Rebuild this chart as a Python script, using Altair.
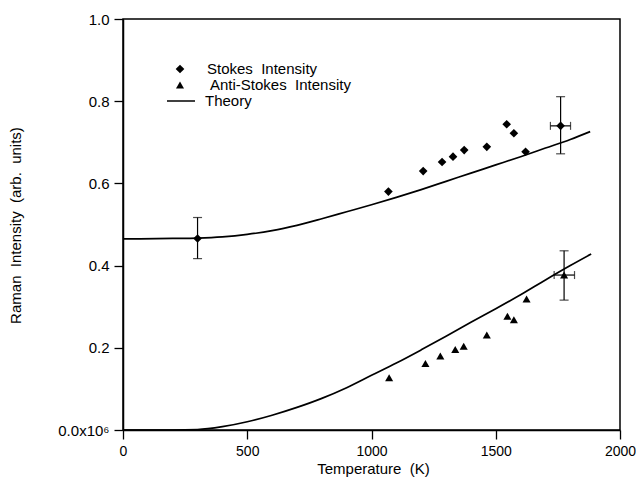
import altair as alt
import pandas as pd

# ---- data ----
stokes_T = [300, 1068, 1208, 1284, 1328, 1373, 1464, 1544, 1573, 1620, 1761]
stokes_I = [0.466, 0.580, 0.630, 0.652, 0.665, 0.681, 0.689, 0.744, 0.722, 0.677, 0.740]

anti_T = [1071, 1217, 1277, 1337, 1371, 1464, 1547, 1573, 1624, 1775]
anti_I = [0.127, 0.162, 0.180, 0.196, 0.204, 0.231, 0.277, 0.268, 0.319, 0.377]

theory_up_T = [0, 200, 300, 400, 500, 600, 700, 800, 900, 1000, 1100, 1200, 1300, 1400, 1500, 1600, 1700, 1800, 1880]
theory_up_I = [0.465, 0.466, 0.467, 0.470, 0.476, 0.485, 0.498, 0.514, 0.531, 0.548, 0.566, 0.585, 0.605, 0.625, 0.645, 0.665, 0.686, 0.707, 0.726]

theory_lo_T = [0, 200, 300, 400, 500, 600, 700, 800, 900, 1000, 1100, 1200, 1300, 1400, 1500, 1600, 1700, 1800, 1884]
theory_lo_I = [0.0, 0.0, 0.001, 0.008, 0.020, 0.036, 0.055, 0.077, 0.103, 0.133, 0.163, 0.195, 0.228, 0.262, 0.295, 0.329, 0.365, 0.400, 0.428]

# vertical error bars
verr_T = [300, 1761, 1775]
verr_lo = [0.417, 0.672, 0.316]
verr_hi = [0.517, 0.811, 0.436]
# horizontal error bars
herr_I = [0.740, 0.377]
herr_lo = [1720, 1735]
herr_hi = [1801, 1817]

SP = "\u00a0 "
legend_labels = ["Stokes" + SP + "Intensity", "Anti-Stokes" + SP + "Intensity", "Theory"]
x_title = "Temperature" + SP + "(K)"
y_title = "Raman" + SP + "Intensity" + SP + "(arb." + SP + "units)"
y_ticks = [0.0, 0.2, 0.4, 0.6, 0.8, 1.0]
x_ticks = [0, 500, 1000, 1500, 2000]

FONT = "Liberation Sans"
FS = 15

stokes_df = pd.DataFrame({"T": stokes_T, "I": stokes_I})
anti_df = pd.DataFrame({"T": anti_T, "I": anti_I})
theory_df = pd.concat([
    pd.DataFrame({"T": theory_up_T, "I": theory_up_I, "s": "up"}),
    pd.DataFrame({"T": theory_lo_T, "I": theory_lo_I, "s": "lo"}),
])
verr_df = pd.DataFrame({"T": verr_T, "lo": verr_lo, "hi": verr_hi})
herr_df = pd.DataFrame({"I": herr_I, "lo": herr_lo, "hi": herr_hi})

xscale = alt.Scale(domain=[0, 2000], nice=False, zero=False)
yscale = alt.Scale(domain=[0, 1], nice=False)

xaxis = alt.Axis(values=x_ticks, format="d", title=x_title, labelFlush=False,
                 labelOverlap=False, labelPadding=5, labelFontSize=14, titleX=250, titleY=38,
                 titleBaseline="middle")
yaxis = alt.Axis(values=y_ticks, title=y_title,
                 labelExpr="datum.value == 0 ? '0.0x10\u2076' : format(datum.value, '.1f')",
                 labelOverlap=False, labelPadding=5, labelFlush=False,
                 titleX=-108, titleY=206, titleAngle=270, titleAlign="center",
                 titleBaseline="middle")


def X(field, **kw):
    return alt.X(field, type="quantitative", scale=xscale, axis=xaxis, **kw)


def Y(field, **kw):
    return alt.Y(field, type="quantitative", scale=yscale, axis=yaxis, **kw)


theory = alt.Chart(theory_df).mark_line(color="black", strokeWidth=1.7, interpolate="monotone").encode(
    x=X("T"), y=Y("I"), detail="s:N")

vbar = alt.Chart(verr_df).mark_rule(color="black", strokeWidth=1.2).encode(
    x=X("T"), y=Y("lo"), y2="hi")
vcap_lo = alt.Chart(verr_df).mark_tick(orient="horizontal", size=9, thickness=1.2, color="black").encode(
    x=X("T"), y=Y("lo"))
vcap_hi = alt.Chart(verr_df).mark_tick(orient="horizontal", size=9, thickness=1.2, color="black").encode(
    x=X("T"), y=Y("hi"))

hbar = alt.Chart(herr_df).mark_rule(color="black", strokeWidth=1.2).encode(
    x=X("lo"), x2="hi", y=Y("I"))
hcap_lo = alt.Chart(herr_df).mark_tick(orient="vertical", size=8, thickness=1.2, color="black").encode(
    x=X("lo"), y=Y("I"))
hcap_hi = alt.Chart(herr_df).mark_tick(orient="vertical", size=8, thickness=1.2, color="black").encode(
    x=X("hi"), y=Y("I"))

stokes = alt.Chart(stokes_df).mark_point(shape="diamond", filled=True, size=75, color="black", opacity=1).encode(
    x=X("T"), y=Y("I"))
anti = alt.Chart(anti_df).mark_point(shape="triangle-up", filled=True, size=65, color="black", opacity=1).encode(
    x=X("T"), y=Y("I"))

one = pd.DataFrame({"a": [0]})
leg_d = alt.Chart(one).mark_point(shape="diamond", filled=True, size=75, color="black", opacity=1).encode(
    x=alt.value(57), y=alt.value(50))
leg_t = alt.Chart(one).mark_point(shape="triangle-up", filled=True, size=65, color="black", opacity=1).encode(
    x=alt.value(57), y=alt.value(66))
leg_l = alt.Chart(one).mark_rule(color="black", strokeWidth=1.5).encode(
    x=alt.value(44), x2=alt.value(72), y=alt.value(82))
leg_txt = [
    alt.Chart(one).mark_text(align="left", baseline="middle", font=FONT, fontSize=FS, color="black").encode(
        x=alt.value(xp), y=alt.value(yp), text=alt.value(lab))
    for lab, xp, yp in zip(legend_labels, [84, 87, 82], [50, 66, 82])
]

chart = alt.layer(
    theory, vbar, vcap_lo, vcap_hi, hbar, hcap_lo, hcap_hi, stokes, anti,
    leg_d, leg_t, leg_l, *leg_txt
).properties(
    width=497, height=411,
    autosize=alt.AutoSizeParams(type="none"),
    padding={"left": 115, "top": 11, "right": 16, "bottom": 48},
).configure_view(
    stroke="black", strokeWidth=1.5
).configure_axis(
    domainColor="black", domainWidth=1.5, tickColor="black", tickWidth=1.3, tickSize=9,
    labelColor="black", titleColor="black", grid=False,
    labelFont=FONT, titleFont=FONT, labelFontSize=FS, titleFontSize=FS, titleFontWeight="normal",
)

chart.save("out.html", embed_options={"renderer": "svg", "actions": False})
